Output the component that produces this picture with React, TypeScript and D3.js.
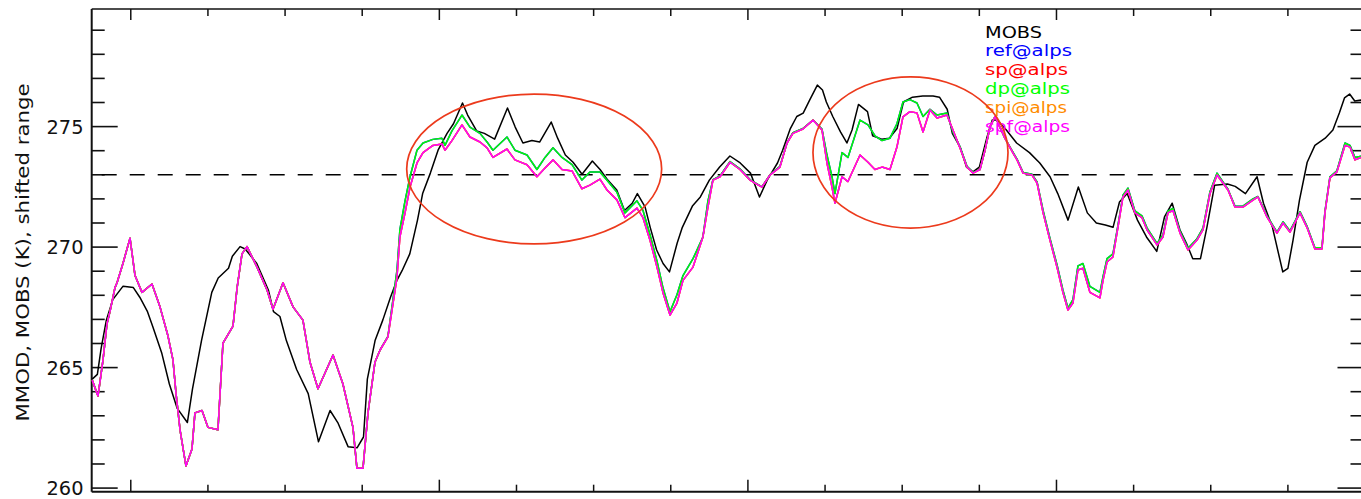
import React from "react";
import * as d3 from "d3";

// Hours since start of the period, and temperatures in K.
const hoursObs = [
  -3.0, -2.6, -2.3, -1.9, -1.4, -0.6, 0.2, 0.7, 1.3, 1.7,
  2.4, 3.0, 3.6, 4.4, 4.8, 5.5, 6.3, 6.8, 7.6, 7.9,
  8.5, 8.9, 9.8, 10.7, 11.1, 11.6, 12.1, 12.9, 13.8, 14.6,
  15.5, 16.1, 16.9, 17.6, 18.1, 18.4, 19.0, 19.6, 20.2, 20.7,
  21.1, 21.7, 22.3, 22.7, 23.3, 23.9, 24.6, 25.1, 25.8, 26.2,
  26.9, 27.5, 28.3, 29.3, 29.9, 30.5, 31.2, 31.8, 32.7, 33.2,
  33.8, 34.4, 35.1, 35.9, 36.5, 37.1, 37.8, 38.4, 39.0, 39.4,
  40.0, 40.4, 40.9, 41.4, 41.9, 42.5, 42.9, 43.7, 44.3, 45.0,
  45.8, 46.6, 47.4, 48.2, 48.9, 49.5, 50.3, 50.7, 51.3, 51.8,
  52.3, 52.8, 53.4, 53.8, 54.1, 54.6, 55.2, 55.7, 56.1, 56.6,
  57.3, 57.7, 58.4, 59.0, 59.6, 60.1, 60.8, 61.6, 62.4, 62.9,
  63.5, 63.9, 64.5, 65.0, 65.5, 66.0, 66.6, 67.0, 67.4, 68.1,
  68.9, 69.9, 70.7, 71.5, 72.1, 72.9, 73.7, 74.4, 75.1, 75.8,
  76.4, 76.9, 77.5, 78.3, 79.0, 79.8, 80.4, 81.0, 81.6, 82.1,
  82.6, 83.2, 83.7, 84.3, 85.3, 85.9, 86.7, 87.6, 88.1, 88.8,
  89.6, 90.0, 90.4, 90.9, 91.5, 92.1, 92.9, 93.5, 94.0, 94.4,
  94.8, 95.2, 95.7, 96.0,
];

const mobsK = [
  264.52, 264.72, 265.82, 266.97, 267.82, 268.38, 268.32, 267.92, 267.32, 266.72,
  265.62, 264.32, 263.32, 262.72, 264.12, 266.12, 268.12, 268.72, 269.12, 269.62,
  270.02, 269.92, 269.32, 268.22, 267.32, 267.12, 266.12, 264.92, 263.92, 261.92,
  263.22, 262.72, 261.72, 261.67, 262.12, 264.52, 266.12, 266.97, 267.92, 268.62,
  269.02, 269.72, 271.12, 272.22, 273.07, 274.02, 274.72, 275.12, 275.98, 275.48,
  274.82, 274.72, 274.48, 275.77, 274.98, 274.32, 274.42, 274.36, 275.19, 274.52,
  273.82, 273.52, 273.02, 273.57, 273.22, 272.78, 272.37, 271.52, 271.82, 272.22,
  271.67, 270.82, 269.88, 269.32, 268.97, 270.17, 270.82, 271.72, 272.08, 272.78,
  273.32, 273.78, 273.49, 273.07, 272.08, 272.78, 273.49, 274.02, 274.92, 275.42,
  275.56, 276.1, 276.72, 276.52, 276.02, 275.42, 274.78, 274.32, 274.86, 275.92,
  275.62, 274.62, 274.48, 274.52, 274.92, 276.02, 276.22, 276.27, 276.27, 276.22,
  275.72, 274.72, 274.15, 273.32, 273.12, 273.32, 274.57, 275.27, 275.27, 274.86,
  274.32, 273.92, 273.49, 272.92, 272.22, 271.12, 272.49, 271.42, 271.0, 270.92,
  270.82, 271.87, 272.22, 271.12, 270.42, 269.82, 271.25, 271.82, 270.72, 270.17,
  269.52, 269.52, 270.82, 272.57, 272.62, 272.52, 272.22, 272.92, 271.82, 270.82,
  268.97, 269.12, 270.29, 271.95, 273.52, 274.22, 274.52, 274.86, 275.56, 276.19,
  276.35, 276.06, 276.1, 276.12,
];

const hoursMod = [
  -3.0, -2.55, -2.16, -1.85, -1.62, -1.23, -1.07, -0.61, -0.06, 0.33,
  0.87, 1.65, 2.27, 2.89, 3.28, 3.52, 3.83, 4.29, 4.76, 4.99,
  5.54, 6.0, 6.78, 7.17, 7.95, 8.27, 8.65, 9.04, 9.82, 10.6,
  11.06, 11.84, 12.62, 13.39, 13.94, 14.56, 15.73, 16.5, 17.28, 17.59,
  18.06, 18.45, 18.99, 19.38, 20.0, 20.7, 20.93, 21.33, 21.72, 22.26,
  22.73, 23.5, 24.2, 24.44, 24.98, 25.76, 26.38, 27.16, 27.71, 28.17,
  29.26, 29.88, 30.82, 31.59, 32.22, 32.84, 33.54, 34.32, 35.09, 35.71,
  36.49, 37.04, 37.82, 38.44, 39.37, 39.84, 40.38, 40.93, 41.39, 41.94,
  42.48, 42.95, 43.73, 44.5, 44.89, 45.28, 45.83, 46.61, 47.38, 48.16,
  49.09, 49.71, 50.49, 51.04, 51.5, 52.28, 53.06, 53.76, 54.15, 54.54,
  54.77, 55.32, 55.78, 56.72, 57.34, 57.88, 58.43, 59.05, 59.59, 60.06,
  60.6, 61.15, 61.62, 62.16, 62.71, 63.48, 63.95, 64.49, 65.04, 65.51,
  66.05, 66.44, 66.83, 67.22, 67.6, 67.99, 68.6, 68.93, 69.4, 70.1,
  70.49, 70.96, 71.49, 72.04, 72.5, 72.89, 73.28, 73.67, 74.06, 74.6,
  75.38, 75.62, 75.93, 76.39, 76.78, 77.17, 77.56, 78.1, 78.65, 79.04,
  79.82, 80.28, 80.67, 81.06, 81.61, 82.23, 82.93, 83.4, 83.94, 84.49,
  84.95, 85.34, 85.88, 86.5, 87.28, 87.67, 88.37, 89.15, 89.62, 90.16,
  90.94, 91.48, 92.1, 92.65, 92.88, 93.27, 93.81, 94.44, 94.83, 95.22,
  95.68, 96.0,
];

const spfK = [
  264.48, 263.82, 265.32, 266.82, 267.32, 268.32, 268.52, 269.32, 270.37, 268.82,
  268.12, 268.47, 267.52, 266.32, 265.32, 263.92, 262.42, 260.92, 261.62, 263.12,
  263.22, 262.52, 262.42, 266.02, 266.72, 268.32, 269.72, 270.02, 269.17, 268.22,
  267.42, 268.52, 267.52, 266.97, 265.22, 264.12, 265.52, 264.32, 262.52, 260.82,
  260.82, 263.12, 265.22, 265.72, 266.27, 268.72, 270.42, 271.42, 272.49, 273.49,
  273.92, 274.22, 274.28, 274.02, 274.42, 275.07, 274.57, 274.36, 274.12, 273.72,
  274.07, 273.62, 273.42, 272.92, 273.28, 273.62, 273.22, 273.16, 272.42, 272.57,
  272.82, 272.37, 271.95, 271.22, 271.62, 271.22, 270.29, 269.17, 268.12, 267.18,
  267.68, 268.62, 269.17, 270.42, 271.66, 272.78, 272.92, 273.52, 273.22, 272.78,
  272.49, 272.99, 273.32, 274.32, 274.72, 274.9, 275.27, 274.86, 273.49, 272.49,
  271.82, 272.92, 272.72, 273.82, 273.52, 273.22, 273.32, 273.22, 274.15, 275.4,
  275.62, 275.57, 274.78, 275.69, 275.36, 275.48, 274.86, 274.12, 273.32, 273.07,
  273.22, 274.02, 274.98, 275.42, 274.98, 274.52, 273.92, 273.62, 273.07, 272.99,
  272.66, 271.42, 270.29, 269.17, 268.12, 267.39, 267.68, 269.05, 269.12, 268.12,
  267.89, 268.62, 269.38, 269.59, 270.82, 272.08, 272.37, 271.42, 271.22, 270.72,
  270.09, 270.42, 271.42, 271.52, 270.58, 269.88, 270.29, 270.72, 272.22, 272.99,
  272.66, 272.37, 271.66, 271.66, 271.95, 272.08, 271.25, 270.58, 271.0, 270.62,
  271.42, 270.82, 269.92, 269.92, 271.42, 272.87, 273.12, 274.22, 274.15, 273.62,
  273.72, 273.72,
];

const dpK = [
  264.48, 263.82, 265.32, 266.82, 267.32, 268.32, 268.52, 269.32, 270.37, 268.82,
  268.12, 268.47, 267.52, 266.32, 265.32, 263.92, 262.42, 260.92, 261.62, 263.12,
  263.22, 262.52, 262.42, 266.02, 266.72, 268.32, 269.72, 270.02, 269.17, 268.22,
  267.42, 268.52, 267.52, 266.97, 265.22, 264.12, 265.52, 264.32, 262.52, 260.82,
  260.82, 263.12, 265.22, 265.72, 266.3, 269.02, 270.72, 271.92, 272.92, 274.02,
  274.32, 274.47, 274.52, 274.22, 274.82, 275.48, 274.98, 274.72, 274.36, 274.02,
  274.57, 274.02, 273.82, 273.22, 273.72, 274.12, 273.72, 273.42, 272.78, 273.12,
  273.12, 272.77, 272.27, 271.42, 271.92, 271.52, 270.52, 269.42, 268.32, 267.32,
  268.02, 268.82, 269.52, 270.42, 271.92, 272.8, 272.95, 273.55, 273.25, 272.8,
  272.5, 273.0, 273.35, 274.32, 274.75, 274.92, 275.27, 274.9, 273.82, 272.92,
  272.22, 273.92, 273.72, 275.27, 275.07, 274.62, 274.42, 274.52, 275.12, 276.02,
  276.12, 275.98, 275.42, 275.72, 275.48, 275.56, 274.77, 274.17, 273.35, 273.1,
  273.22, 274.02, 274.98, 275.42, 274.98, 274.52, 273.95, 273.65, 273.1, 273.02,
  272.7, 271.52, 270.37, 269.27, 268.22, 267.47, 267.82, 269.22, 269.32, 268.37,
  268.12, 268.77, 269.52, 269.72, 270.9, 272.15, 272.45, 271.5, 271.3, 270.8,
  270.15, 270.5, 271.5, 271.6, 270.65, 269.95, 270.35, 270.8, 272.3, 273.07,
  272.7, 272.4, 271.7, 271.7, 272.0, 272.1, 271.3, 270.62, 271.05, 270.67,
  271.47, 270.87, 269.97, 269.97, 271.47, 272.92, 273.17, 274.32, 274.22, 273.72,
  273.77, 273.77,
];

// ref follows dp, sp and spi follow spf to within a line width over the whole period
const refK = dpK;
const spK = spfK;
const spiK = spfK;

const legendLabels = ["MOBS", "ref@alps", "sp@alps", "dp@alps", "spi@alps", "spf@alps"];
const seriesColors = ["#000000", "#0000ff", "#ff0000", "#00ff00", "#ff8c00", "#ff00ff"];

const freezingK = 273;
const yMajorTicks = [260, 265, 270, 275];
const yMinorTicks = d3.range(260, 280, 1);
const xTicks = d3.range(0, 96, 6);
const yTitle = "MMOD, MOBS (K), shifted range";

// highlighted windows: [hourStart, hourEnd, kLow, kHigh]
const highlights = [
  [21.46, 41.29, 270.13, 276.35],
  [53.06, 68.23, 270.79, 277.06],
];

const W = 1361;
const H = 499;
const L = 91.7;
const R = 1363.5;
const T = 9;
const B = 491.7;

// rendered widths of the legend entries, in px
const legendWidths = [57, 87, 83, 85, 82, 85];

export default function App() {
  const x = d3.scaleLinear().domain([-3.04, 95.88]).range([L, R]);
  const y = d3.scaleLinear().domain([259.85, 279.88]).range([B, T]);

  const series = [
    { hours: hoursObs, values: mobsK },
    { hours: hoursMod, values: refK },
    { hours: hoursMod, values: spK },
    { hours: hoursMod, values: dpK },
    { hours: hoursMod, values: spiK },
    { hours: hoursMod, values: spfK },
  ];

  const line = (hours: number[], values: number[]) =>
    d3
      .line<number>()
      .x((_, i) => x(hours[i]))
      .y((v) => y(v))(values) || "";

  const font = "'DejaVu Sans', sans-serif";

  return (
    <svg
      width={W}
      height={H}
      style={{ position: "absolute", left: 0, top: 0, display: "block", background: "#fff" }}
    >
      <rect x={0} y={0} width={W} height={H} fill="#fff" />

      {/* frame */}
      <g stroke="#111" fill="none">
        <line x1={L} x2={R} y1={T} y2={T} strokeWidth={1.6} />
        <line x1={L} x2={R} y1={B} y2={B} strokeWidth={2} />
        <line x1={L} x2={L} y1={T} y2={B} strokeWidth={2} />
        <line x1={R} x2={R} y1={T} y2={B} strokeWidth={2} />
      </g>

      {/* y ticks, left and right */}
      <g stroke="#111" strokeWidth={1.6}>
        {yMinorTicks.map((v) => {
          const major = yMajorTicks.includes(v);
          const len = major ? 26 : 13;
          return (
            <g key={`y${v}`}>
              <line x1={L} x2={L + len} y1={y(v)} y2={y(v)} />
              <line x1={R} x2={R - len} y1={y(v)} y2={y(v)} />
            </g>
          );
        })}
      </g>

      {/* x ticks, bottom and top */}
      <g stroke="#111" strokeWidth={1.5}>
        {xTicks.map((h) => {
          const major = h % 24 === 0;
          return (
            <g key={`x${h}`}>
              <line x1={x(h)} x2={x(h)} y1={B} y2={B - (major ? 12 : 7)} />
              <line x1={x(h)} x2={x(h)} y1={T} y2={T + (major ? 11 : 7)} />
            </g>
          );
        })}
      </g>

      {/* y tick labels */}
      <g fontFamily={font} fontSize={19} fill="#111" textAnchor="end">
        {yMajorTicks.map((v) => (
          <text key={`l${v}`} x={83.5} y={y(v) + 7} textLength={37} lengthAdjust="spacingAndGlyphs">
            {v}
          </text>
        ))}
      </g>

      {/* y title */}
      <text
        transform={`translate(28.5, 252.5) rotate(-90)`}
        fontFamily={font}
        fontSize={18.5}
        fill="#111"
        textAnchor="middle"
        textLength={338}
        lengthAdjust="spacingAndGlyphs"
      >
        {yTitle}
      </text>

      {/* freezing reference */}
      <line
        x1={L}
        x2={R}
        y1={y(freezingK)}
        y2={y(freezingK)}
        stroke="#000"
        strokeWidth={1.6}
        strokeDasharray="15,13"
        strokeDashoffset={-10}
      />

      {/* data */}
      <g fill="none" strokeWidth={1.5} strokeLinejoin="round">
        {series.map((s, i) => (
          <path key={legendLabels[i]} d={line(s.hours, s.values)} stroke={seriesColors[i]} />
        ))}
      </g>

      {/* legend */}
      <g fontFamily={font} fontSize={16.5}>
        {legendLabels.map((lab, i) => (
          <text
            key={`lg${lab}`}
            x={985}
            y={37.5 + i * 18.85}
            fill={seriesColors[i]}
            textLength={legendWidths[i]}
            lengthAdjust="spacingAndGlyphs"
          >
            {lab}
          </text>
        ))}
      </g>

      {/* highlighted windows */}
      <g fill="none" stroke="#ec3a1c" strokeWidth={1.7}>
        {highlights.map(([h0, h1, k0, k1], i) => {
          const cx = (x(h0) + x(h1)) / 2;
          const cy = (y(k0) + y(k1)) / 2;
          return (
            <ellipse
              key={`e${i}`}
              cx={cx}
              cy={cy}
              rx={Math.abs(x(h1) - x(h0)) / 2}
              ry={Math.abs(y(k0) - y(k1)) / 2}
            />
          );
        })}
      </g>
    </svg>
  );
}
